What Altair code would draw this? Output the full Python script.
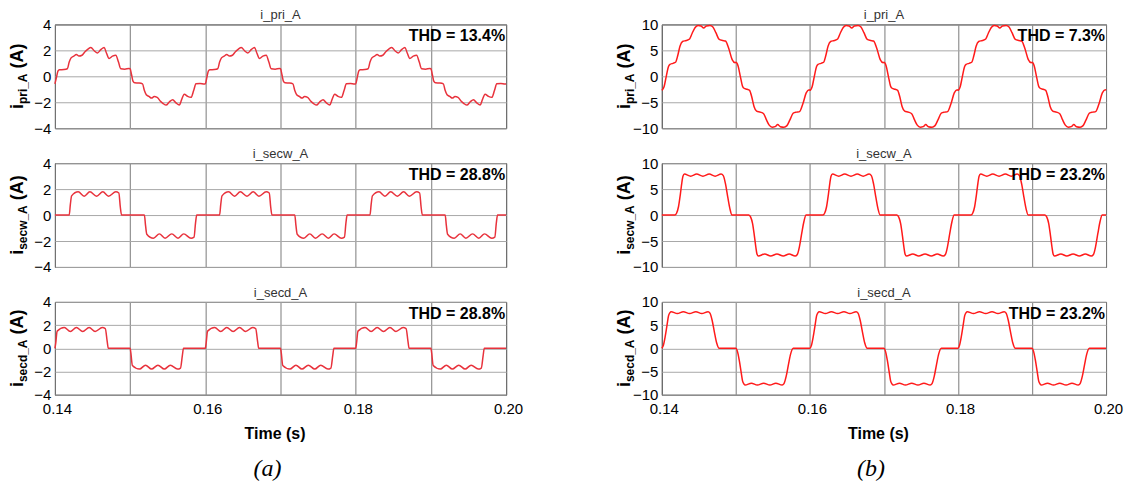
import altair as alt
import pandas as pd

FONT = "Liberation Sans"
SERIF = "Liberation Serif"

# ---------------- axes / ticks ----------------
X_GRID = [0.14, 0.15, 0.16, 0.17, 0.18, 0.19, 0.20]
X_LABELS = ["0.14", "0.16", "0.18", "0.20"]
Y_TICKS_A = [-4, -2, 0, 2, 4]
Y_TICKS_B = [-10, -5, 0, 5, 10]

T_START = 0.14      # s
CYCLE_MS = 20.0     # one 50 Hz period
CYCLES = 3

# ---------------- one 20 ms cycle of each waveform (time in ms after 0.14 s) ----------------
A_PRI_MS = [0.00, 0.20, 0.40, 0.60, 1.20, 1.65, 1.90, 2.15, 2.50, 2.85, 3.20, 3.60, 4.00, 4.40,
            4.78, 5.25, 5.66, 6.10, 6.55, 6.85, 7.20, 7.65, 8.10, 8.45, 8.76, 9.30, 9.85,
            10.00, 10.20, 10.40, 10.60, 11.20, 11.65, 11.90, 12.15, 12.50, 12.85, 13.20, 13.60, 14.00, 14.40,
            14.78, 15.25, 15.66, 16.10, 16.55, 16.85, 17.20, 17.65, 18.10, 18.45, 18.76, 19.30, 19.85, 20.00]
A_PRI_V = [-0.58, -0.10, 0.40, 0.50, 0.52, 0.58, 1.10, 1.42, 1.55, 1.68, 1.56, 1.62, 1.90, 2.10,
           2.22, 1.95, 1.80, 2.05, 2.22, 1.80, 1.38, 1.55, 1.62, 1.10, 0.58, 0.55, 0.60,
           0.58, 0.10, -0.40, -0.50, -0.52, -0.58, -1.10, -1.42, -1.55, -1.68, -1.56, -1.62, -1.90, -2.10,
           -2.22, -1.95, -1.80, -2.05, -2.22, -1.80, -1.38, -1.55, -1.62, -1.10, -0.58, -0.55, -0.60, -0.58]

A_SECW_MS = [0.00, 1.90, 2.05, 2.22, 3.10, 3.89, 4.65, 5.54, 6.37, 7.13, 8.10, 8.50, 8.70, 8.86,
             11.90, 12.05, 12.22, 13.10, 13.89, 14.65, 15.54, 16.37, 17.13, 18.10, 18.50, 18.70, 18.86, 20.00]
A_SECW_V = [0, 0, 0.80, 1.48, 1.79, 1.45, 1.79, 1.45, 1.79, 1.45, 1.79, 1.70, 0.60, 0,
            0, -0.80, -1.48, -1.79, -1.45, -1.79, -1.45, -1.79, -1.45, -1.79, -1.70, -0.60, 0, 0]

A_SECD_MS = [0.00, 0.10, 0.30, 1.25, 2.05, 2.85, 3.70, 4.55, 5.35, 6.30, 6.70, 6.95, 7.10,
             10.00, 10.10, 10.30, 11.25, 12.05, 12.85, 13.70, 14.55, 15.35, 16.30, 16.70, 16.95, 17.10, 20.00]
A_SECD_V = [0, 0.40, 1.48, 1.79, 1.45, 1.79, 1.45, 1.79, 1.45, 1.79, 1.70, 0.60, 0,
            0, -0.40, -1.48, -1.79, -1.45, -1.79, -1.45, -1.79, -1.45, -1.79, -1.70, -0.60, 0, 0]

B_PRI_MS = [0.00, 0.30, 0.60, 0.90, 1.10, 1.50, 1.85, 2.15, 2.45, 2.80, 3.30, 3.75, 4.10, 4.50,
            4.90, 5.30, 5.65, 6.00, 6.50, 6.90, 7.30, 7.75, 8.20, 8.60, 9.05, 9.50, 9.90,
            10.00, 10.30, 10.60, 10.90, 11.10, 11.50, 11.85, 12.15, 12.45, 12.80, 13.30, 13.75, 14.10, 14.50,
            14.90, 15.30, 15.65, 16.00, 16.50, 16.90, 17.30, 17.75, 18.20, 18.60, 19.05, 19.50, 19.90, 20.00]
B_PRI_V = [-2.7, -2.0, 0.0, 1.9, 2.3, 2.5, 2.7, 4.0, 5.8, 6.7, 6.9, 7.2, 8.3, 9.4,
           9.8, 9.7, 9.3, 9.7, 9.8, 9.5, 8.4, 7.1, 6.9, 6.8, 5.3, 3.2, 2.6,
           2.7, 2.0, 0.0, -1.9, -2.3, -2.5, -2.7, -4.0, -5.8, -6.7, -6.9, -7.2, -8.3, -9.4,
           -9.8, -9.7, -9.3, -9.7, -9.8, -9.5, -8.4, -7.1, -6.9, -6.8, -5.3, -3.2, -2.6, -2.7]

B_SECW_MS = [0.00, 1.75, 2.00, 2.25, 2.50, 2.70, 2.85, 3.05, 3.90, 4.70, 5.55, 6.40, 7.20, 8.00,
             8.30, 8.60, 8.90, 9.20, 9.48,
             11.75, 12.00, 12.25, 12.50, 12.70, 12.85, 13.05, 13.90, 14.70, 15.55, 16.40, 17.20, 18.00,
             18.30, 18.60, 18.90, 19.20, 19.48, 20.00]
B_SECW_V = [0, 0, 0.4, 1.6, 4.0, 6.2, 7.5, 7.9, 7.5, 7.9, 7.5, 7.9, 7.5, 7.9,
            7.6, 6.0, 3.5, 1.2, 0,
            0, -0.4, -1.6, -4.0, -6.2, -7.5, -7.9, -7.5, -7.9, -7.5, -7.9, -7.5, -7.9,
            -7.6, -6.0, -3.5, -1.2, 0, 0]

B_SECD_MS = [0.00, 0.20, 0.45, 0.70, 0.90, 1.10, 1.25, 2.10, 2.90, 3.75, 4.60, 5.40, 6.25,
             6.50, 6.80, 7.10, 7.40, 7.75,
             10.00, 10.20, 10.45, 10.70, 10.90, 11.10, 11.25, 12.10, 12.90, 13.75, 14.60, 15.40, 16.25,
             16.50, 16.80, 17.10, 17.40, 17.75, 20.00]
B_SECD_V = [0, 0.6, 2.5, 5.0, 7.0, 7.7, 7.9, 7.5, 7.9, 7.5, 7.9, 7.5, 7.9,
            7.6, 6.0, 3.5, 1.2, 0,
            0, -0.6, -2.5, -5.0, -7.0, -7.7, -7.9, -7.5, -7.9, -7.5, -7.9, -7.5, -7.9,
            -7.6, -6.0, -3.5, -1.2, 0, 0]

TITLES = ["i_pri_A", "i_secw_A", "i_secd_A"]
SUBS = ["pri_A", "secw_A", "secd_A"]
THD_A = ["THD = 13.4%", "THD = 28.8%", "THD = 28.8%"]
THD_B = ["THD = 7.3%", "THD = 23.2%", "THD = 23.2%"]
TAGS = ["(a)", "(b)"]

# ---------------- layout / style ----------------
COL_W = [452, 445]
ROW_H = [104, 104, 93]
COLORS = ["#e8323c", "#ff1a1a"]
W_BOLD = {'i': .278, 'p': .611, 'r': .389, '_': .556, 'A': .722, 's': .556, 'e': .556,
          'c': .556, 'w': .778, 'd': .611, ' ': .278, '(': .333, ')': .333}
MAIN_FS = 18
SUB_FS = 12


def tlen(s, size):
    return sum(W_BOLD.get(c, .556) for c in s) * size


def cycle_frame(ms, vals):
    rows = []
    for k in range(CYCLES):
        for m, v in zip(ms, vals):
            rows.append({"t": round(T_START + (m + CYCLE_MS * k) / 1000.0, 6), "v": v})
    return pd.DataFrame(rows)


def text_layer(txt, **kw):
    return alt.Chart(pd.DataFrame({"s": [txt]})).mark_text(**kw)


def panel(df, title, sub, thd, yticks, w, h, color, bottom, tag):
    label_expr = ("indexof(" + str(X_LABELS) + ", format(datum.value, '.2f')) >= 0 ? "
                  "format(datum.value, '.2f') : ''")
    if bottom:
        xaxis = alt.Axis(values=X_GRID, format=".2f", labelExpr=label_expr, labelFlush=False,
                         labelFontSize=15, labelPadding=7, labelOffset=2, title="Time (s)",
                         titleFont=FONT, titleFontSize=16, titleFontWeight="bold",
                         titleColor="black", titlePadding=9, titleX=w / 2 - 6)
    else:
        xaxis = alt.Axis(values=X_GRID, labels=False, title=None)
    ymax = yticks[-1]
    line = alt.Chart(df).mark_line(color=color, strokeWidth=1.5, interpolate="monotone").encode(
        x=alt.X("t:Q", scale=alt.Scale(domain=[0.14, 0.20], nice=False, zero=False), axis=xaxis),
        y=alt.Y("v:Q", scale=alt.Scale(domain=[-ymax, ymax], nice=False),
                axis=alt.Axis(values=yticks, title=None, labelFontSize=15, labelPadding=4,
                              gridColor="#a8a8a8")),
    )
    thd_t = text_layer(thd, font=FONT, fontWeight="bold", fontSize=16, align="right",
                       baseline="middle", color="black").encode(
        text="s:N", x=alt.value(w - 1), y=alt.value(12))
    title_t = text_layer(title, font=FONT, fontSize=13, align="center", baseline="alphabetic",
                         color="#333333").encode(
        text="s:N", x=alt.value(w / 2), y=alt.value(-5))
    # rotated y label with subscript
    li = tlen("i", MAIN_FS)
    ls = tlen(sub, SUB_FS)
    lsp = tlen(" ", MAIN_FS)
    total = li + ls + lsp + tlen("(A)", MAIN_FS)
    y0 = h / 2 + total / 2
    xb = -32
    lab_kw = dict(font=FONT, fontWeight="bold", angle=270, align="left",
                  baseline="alphabetic", color="black")
    l1 = text_layer("i", fontSize=MAIN_FS, **lab_kw).encode(
        text="s:N", x=alt.value(xb), y=alt.value(y0))
    l2 = text_layer(sub, fontSize=SUB_FS, **lab_kw).encode(
        text="s:N", x=alt.value(xb + 4), y=alt.value(y0 - li))
    l3 = text_layer("(A)", fontSize=MAIN_FS, **lab_kw).encode(
        text="s:N", x=alt.value(xb), y=alt.value(y0 - li - ls - lsp))
    layers = [line, thd_t, title_t, l1, l2, l3]
    if bottom:
        layers.append(text_layer(tag, font=SERIF, fontStyle="italic", fontSize=24, align="center",
                                 baseline="middle", color="black").encode(
            text="s:N", x=alt.value(w / 2 - 13), y=alt.value(h + 74)))
    return alt.layer(*layers).properties(width=w, height=h)


DATA_A = [(A_PRI_MS, A_PRI_V), (A_SECW_MS, A_SECW_V), (A_SECD_MS, A_SECD_V)]
DATA_B = [(B_PRI_MS, B_PRI_V), (B_SECW_MS, B_SECW_V), (B_SECD_MS, B_SECD_V)]

charts = []
for r in range(3):
    for c, (data, thds, yt) in enumerate([(DATA_A, THD_A, Y_TICKS_A), (DATA_B, THD_B, Y_TICKS_B)]):
        df = cycle_frame(*data[r])
        charts.append(panel(df, TITLES[r], SUBS[r], thds[r], yt, COL_W[c], ROW_H[r],
                            COLORS[c], r == 2, TAGS[c]))

chart = alt.concat(*charts, columns=2, spacing={"row": 35, "column": 156},
                   bounds="flush", align="each").properties(
    padding={"left": 0, "top": 0, "right": 5, "bottom": 5}, background="white"
).configure_view(stroke="black", strokeWidth=1).configure_axis(
    domain=False, ticks=False, grid=True, gridColor="#7a7a7a", gridWidth=1,
    labelFont=FONT, labelColor="black"
)

chart.save("out.html", embed_options={"renderer": "svg", "actions": False})
